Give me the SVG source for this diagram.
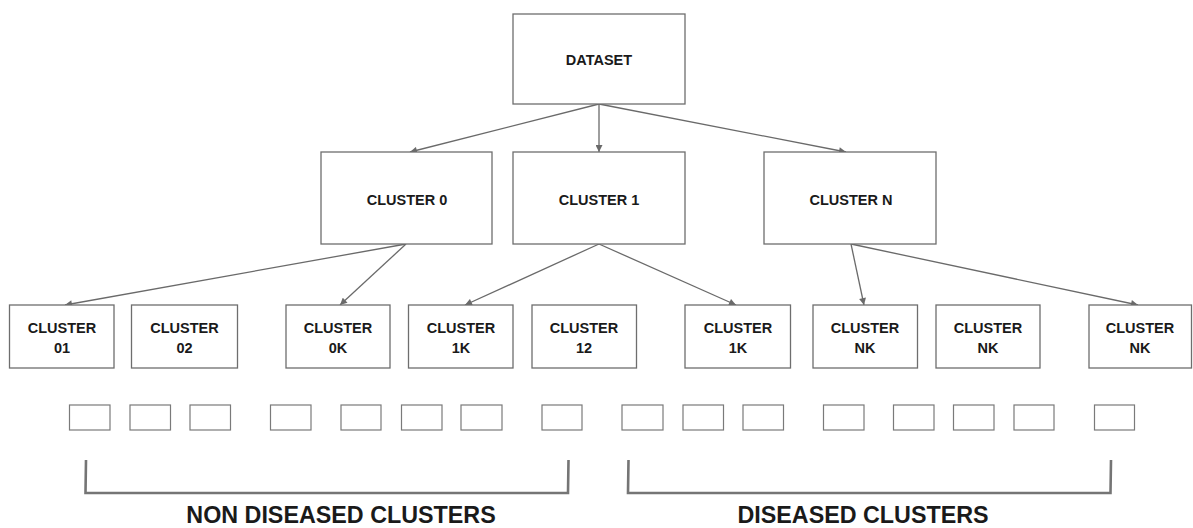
<svg xmlns="http://www.w3.org/2000/svg" width="1193" height="528" viewBox="0 0 1193 528">
  <defs>
    <style>
      .box { fill: #ffffff; stroke: #6e6e6e; stroke-width: 1.3; }
      .leaf { fill: #ffffff; stroke: #7a7a7a; stroke-width: 1.2; }
      .lbl { font-family: "Liberation Sans", Arial, sans-serif; font-weight: bold; font-size: 14.5px; fill: #1a1a1a; text-anchor: middle; }
      .big { font-family: "Liberation Sans", Arial, sans-serif; font-weight: bold; font-size: 23.3px; fill: #1a1a1a; text-anchor: middle; }
      .edge { stroke: #6a6a6a; stroke-width: 1.3; fill: none; marker-end: url(#head); }
      .brace { stroke: #757575; stroke-width: 2.6; fill: none; }
    </style>
    <marker id="head" viewBox="0 0 10 10" refX="10" refY="5" markerWidth="8" markerHeight="7" markerUnits="userSpaceOnUse" orient="auto">
      <path d="M0,0 L10,5 L0,10 z" fill="#6a6a6a"/>
    </marker>
  </defs>
  <rect width="1193" height="528" fill="#ffffff"/>

  <!-- connectors -->
  <g id="connectors">
    <line class="edge" x1="599" y1="104" x2="410" y2="152"/>
    <line class="edge" x1="599" y1="104" x2="599" y2="152"/>
    <line class="edge" x1="599" y1="104" x2="846" y2="152"/>
    <line class="edge" x1="406" y1="244" x2="65" y2="305"/>
    <line class="edge" x1="406" y1="244" x2="340" y2="305"/>
    <line class="edge" x1="599" y1="244" x2="465" y2="305"/>
    <line class="edge" x1="599" y1="244" x2="736" y2="305"/>
    <line class="edge" x1="851" y1="244" x2="864" y2="305"/>
    <line class="edge" x1="851" y1="244" x2="1138" y2="305"/>
  </g>

  <!-- root -->
  <g id="dataset">
    <rect class="box" x="513" y="14" width="172" height="90"/>
    <text class="lbl" x="599" y="65">DATASET</text>
  </g>

  <!-- first level clusters -->
  <g id="cluster-0">
    <rect class="box" x="321" y="152" width="171" height="92"/>
    <text class="lbl" x="407" y="204.5">CLUSTER 0</text>
  </g>
  <g id="cluster-1">
    <rect class="box" x="513" y="152" width="172" height="92"/>
    <text class="lbl" x="599" y="204.5">CLUSTER 1</text>
  </g>
  <g id="cluster-n">
    <rect class="box" x="764" y="152" width="172" height="92"/>
    <text class="lbl" x="851" y="204.5">CLUSTER N</text>
  </g>

  <!-- second level clusters -->
  <g id="cluster-01">
    <rect class="box" x="9.5" y="305" width="104.5" height="63"/>
    <text class="lbl" x="62" y="333">CLUSTER</text>
    <text class="lbl" x="62" y="353">01</text>
  </g>
  <g id="cluster-02">
    <rect class="box" x="131.5" y="305" width="106" height="63"/>
    <text class="lbl" x="184.5" y="333">CLUSTER</text>
    <text class="lbl" x="184.5" y="353">02</text>
  </g>
  <g id="cluster-0k">
    <rect class="box" x="286" y="305" width="104" height="63"/>
    <text class="lbl" x="338" y="333">CLUSTER</text>
    <text class="lbl" x="338" y="353">0K</text>
  </g>
  <g id="cluster-1k-a">
    <rect class="box" x="408.5" y="305" width="104.5" height="63"/>
    <text class="lbl" x="461" y="333">CLUSTER</text>
    <text class="lbl" x="461" y="353">1K</text>
  </g>
  <g id="cluster-12">
    <rect class="box" x="532" y="305" width="104.5" height="63"/>
    <text class="lbl" x="584" y="333">CLUSTER</text>
    <text class="lbl" x="584" y="353">12</text>
  </g>
  <g id="cluster-1k-b">
    <rect class="box" x="685" y="305" width="105.5" height="63"/>
    <text class="lbl" x="738" y="333">CLUSTER</text>
    <text class="lbl" x="738" y="353">1K</text>
  </g>
  <g id="cluster-nk-a">
    <rect class="box" x="813" y="305" width="104.5" height="63"/>
    <text class="lbl" x="865" y="333">CLUSTER</text>
    <text class="lbl" x="865" y="353">NK</text>
  </g>
  <g id="cluster-nk-b">
    <rect class="box" x="936" y="305" width="104" height="63"/>
    <text class="lbl" x="988" y="333">CLUSTER</text>
    <text class="lbl" x="988" y="353">NK</text>
  </g>
  <g id="cluster-nk-c">
    <rect class="box" x="1089" y="305" width="102.5" height="63"/>
    <text class="lbl" x="1140" y="333">CLUSTER</text>
    <text class="lbl" x="1140" y="353">NK</text>
  </g>

  <!-- leaf items, non diseased side -->
  <g id="leaves-left">
    <rect class="leaf" x="69.5" y="405" width="40.5" height="25"/>
    <rect class="leaf" x="130" y="405" width="40.5" height="25"/>
    <rect class="leaf" x="190" y="405" width="40.5" height="25"/>
    <rect class="leaf" x="270.5" y="405" width="40.5" height="25"/>
    <rect class="leaf" x="341" y="405" width="40" height="25"/>
    <rect class="leaf" x="401.5" y="405" width="40.5" height="25"/>
    <rect class="leaf" x="461" y="405" width="41" height="25"/>
    <rect class="leaf" x="542" y="405" width="40" height="25"/>
  </g>

  <!-- leaf items, diseased side -->
  <g id="leaves-right">
    <rect class="leaf" x="622" y="405" width="41" height="25"/>
    <rect class="leaf" x="683" y="405" width="40.5" height="25"/>
    <rect class="leaf" x="743" y="405" width="40.5" height="25"/>
    <rect class="leaf" x="823.5" y="405" width="40.5" height="25"/>
    <rect class="leaf" x="893.5" y="405" width="40.5" height="25"/>
    <rect class="leaf" x="953.5" y="405" width="40.5" height="25"/>
    <rect class="leaf" x="1014" y="405" width="40" height="25"/>
    <rect class="leaf" x="1094.5" y="405" width="40" height="25"/>
  </g>

  <!-- group brackets and captions -->
  <g id="group-non-diseased">
    <path class="brace" d="M86,460 L85.5,493 L568,493 L568.5,460"/>
    <text class="big" x="341" y="522.5">NON DISEASED CLUSTERS</text>
  </g>
  <g id="group-diseased">
    <path class="brace" d="M628.5,460 L628,493 L1110.5,493 L1111,460"/>
    <text class="big" x="863" y="522.5">DISEASED CLUSTERS</text>
  </g>
</svg>
